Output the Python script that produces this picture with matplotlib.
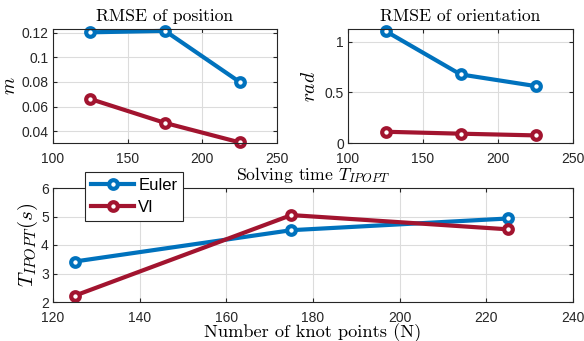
import numpy as np
import matplotlib
matplotlib.use("Agg")
import matplotlib.pyplot as plt

plt.rcParams['font.family'] = ['Liberation Sans', 'DejaVu Sans']
plt.rcParams['mathtext.fontset'] = 'cm'
plt.rcParams['axes.formatter.use_mathtext'] = False

# data
knots = [125, 175, 225]
pos_euler = [0.1203, 0.1215, 0.0800]
pos_vi = [0.0662, 0.0468, 0.0310]
ori_euler = [1.105, 0.677, 0.562]
ori_vi = [0.111, 0.092, 0.075]
t_euler = [3.42, 4.52, 4.93]
t_vi = [2.22, 5.05, 4.55]

blue = '#0072BD'
red = '#A2142F'
dark = '#262626'

W, H = 584, 341
fig = plt.figure(figsize=(W / 100, H / 100), dpi=100)


def px_axes(l, t, r, b):
    return fig.add_axes([l / W, 1 - b / H, (r - l) / W, (b - t) / H])


def style(ax):
    ax.grid(True, color='#dcdcdc', lw=0.8)
    ax.set_axisbelow(True)
    ax.tick_params(direction='in', top=True, right=True, labelsize=10,
                   colors=dark, length=3, width=0.8, pad=3)
    ax.tick_params(axis='x', pad=6.5)
    for s in ax.spines.values():
        s.set_color(dark)
        s.set_linewidth(0.8)


def draw(ax, ye, yv):
    kw = dict(marker='o', lw=3, ms=6.2, mew=3, mfc='white')
    ax.plot(knots, ye, color=blue, mec=blue, label='Euler', clip_on=False, **kw)
    ax.plot(knots, yv, color=red, mec=red, label='VI', clip_on=False, **kw)


ax1 = px_axes(53, 29, 277, 143)
draw(ax1, pos_euler, pos_vi)
style(ax1)
ax1.set_xlim(100, 250)
ax1.set_ylim(0.0305, 0.123)
ax1.set_xticks([100, 150, 200, 250])
ax1.set_yticks([0.04, 0.06, 0.08, 0.1, 0.12])
ax1.set_yticklabels(['0.04', '0.06', '0.08', '0.1', '0.12'])
ax1.set_title('RMSE of position', family='cmr10', fontsize=12.7, pad=6)
ax1.set_ylabel('$m$', fontsize=14, labelpad=2)

ax2 = px_axes(348, 29, 573, 143)
draw(ax2, ori_euler, ori_vi)
style(ax2)
ax2.set_xlim(100, 250)
ax2.set_ylim(0, 1.125)
ax2.set_xticks([100, 150, 200, 250])
ax2.set_yticks([0, 0.5, 1])
ax2.set_yticklabels(['0', '0.5', '1'])
ax2.set_title('RMSE of orientation', family='cmr10', fontsize=12.7, pad=6)
ax2.set_ylabel('$rad$', fontsize=14, labelpad=4)

ax3 = px_axes(53, 188, 573, 302)
draw(ax3, t_euler, t_vi)
style(ax3)
ax3.set_xlim(120, 240)
ax3.set_ylim(2, 6)
ax3.set_xticks(np.arange(120, 241, 20))
ax3.set_yticks([2, 3, 4, 5, 6])
ax3.set_title('Solving time $T_{IPOPT}$', family='cmr10', fontsize=12.7, pad=6)
ax3.set_ylabel('$T_{IPOPT}(s)$', fontsize=15, labelpad=1)
ax3.set_xlabel('Number of knot points (N)', family='cmr10', fontsize=13.2, labelpad=-1)

leg = ax3.legend(loc='upper left', bbox_to_anchor=(85 / W, 1 - 172 / H),
                 bbox_transform=fig.transFigure, fontsize=12, frameon=True,
                 fancybox=False, edgecolor=dark, framealpha=1,
                 handlelength=2.6, borderpad=0.35, labelspacing=0.45,
                 handletextpad=0.25, borderaxespad=0, markerscale=1.0)
leg.get_frame().set_linewidth(0.8)

fig.savefig('out.png', dpi=100)
